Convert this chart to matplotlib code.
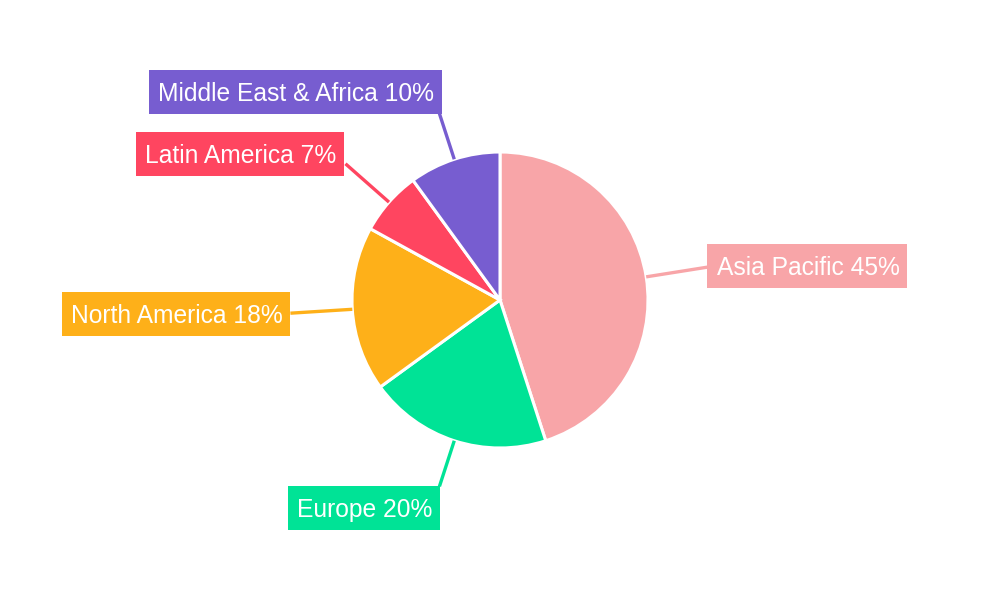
import numpy as np
import matplotlib.pyplot as plt
from matplotlib.patches import Rectangle

plt.rcParams['font.family'] = ['Liberation Sans', 'DejaVu Sans']

regions = ['Asia Pacific', 'Europe', 'North America', 'Latin America', 'Middle East & Africa']
shares = [45, 20, 18, 7, 10]
colors = ['#F8A5A8', '#00E396', '#FEB019', '#FF4560', '#775DD0']

# label box centres (pixel coords, y down) and leader end radius
label_pos = [(807, 266), (364, 508), (176, 314), (240, 154), (295, 92)]
leader_end = [211, 196, 210, 206, 198]

fig = plt.figure(figsize=(10, 6), dpi=100)
ax = fig.add_axes([0, 0, 1, 1])

cx, cy, r = 500, 300, 148
wedges, _ = ax.pie(shares, colors=colors, startangle=90, counterclock=False,
                   center=(cx, cy), radius=r, frame=True,
                   wedgeprops=dict(edgecolor='white', linewidth=2.2))
ax.set_xlim(0, 1000)
ax.set_ylim(0, 600)
ax.set_aspect('equal')
ax.axis('off')

texts = []
for w, name, val, col, (lx, ly), re in zip(wedges, regions, shares, colors, label_pos, leader_end):
    mid = np.deg2rad((w.theta1 + w.theta2) / 2)
    x0, y0 = cx + r * np.cos(mid), cy + r * np.sin(mid)
    x1, y1 = cx + re * np.cos(mid), cy + re * np.sin(mid)
    ax.plot([x0, x1], [y0, y1], color=col, lw=2.4, solid_capstyle='butt', zorder=1)
    t = ax.text(lx + 1, 600 - ly - 2, f'{name} {val}%', ha='center', va='center',
                fontsize=17.7, color='white', zorder=4)
    texts.append((t, col, lx, ly))

fig.canvas.draw()
rend = fig.canvas.get_renderer()
for t, col, lx, ly in texts:
    bb = t.get_window_extent(rend)
    w_box = bb.width + 17
    ax.add_patch(Rectangle((lx - w_box / 2, 600 - ly - 22), w_box, 44,
                           fc=col, ec='none', zorder=3))

fig.savefig('out.png', dpi=100, facecolor='white')
